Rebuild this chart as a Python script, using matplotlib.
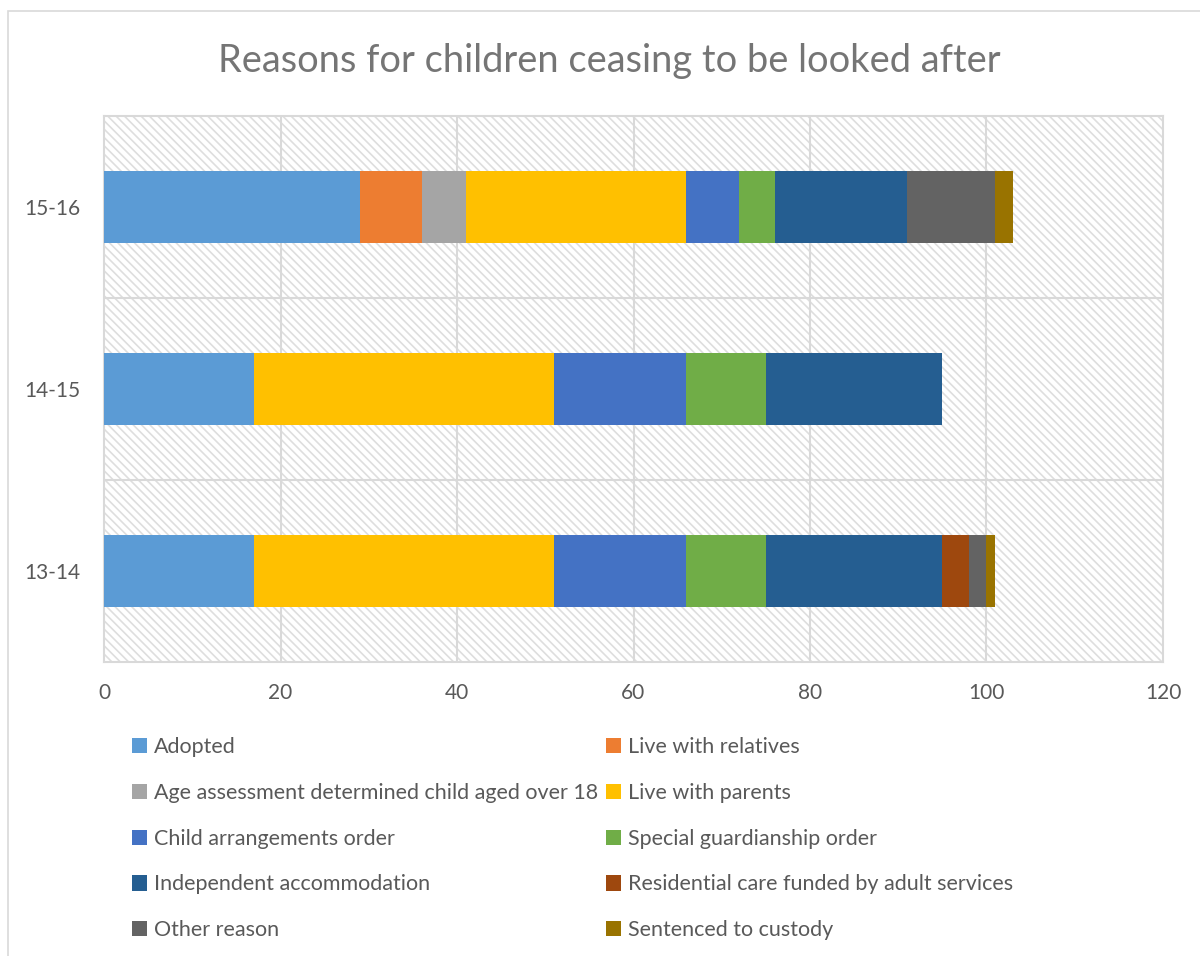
import numpy as np
import matplotlib.pyplot as plt
from matplotlib.patches import Rectangle, Patch

plt.rcParams['font.family'] = ['Lato', 'DejaVu Sans']
plt.rcParams['hatch.color'] = '#dedede'
plt.rcParams['hatch.linewidth'] = 1.2

# Données
categories = ['13-14', '14-15', '15-16']
adopted = [17, 17, 29]
live_with_relatives = [0, 0, 7]
age_assessment = [0, 0, 5]
live_with_parents = [34, 34, 25]
child_arrangements = [15, 15, 6]
special_guardianship = [9, 9, 4]
independent_accommodation = [20, 20, 15]
residential_care = [3, 0, 0]
other_reason = [2, 0, 10]
sentenced_to_custody = [1, 0, 2]

series_names = ['Adopted', 'Live with relatives',
                'Age assessment determined child aged over 18', 'Live with parents',
                'Child arrangements order', 'Special guardianship order',
                'Independent accommodation', 'Residential care funded by adult services',
                'Other reason', 'Sentenced to custody']
series_values = [adopted, live_with_relatives, age_assessment, live_with_parents,
                 child_arrangements, special_guardianship, independent_accommodation,
                 residential_care, other_reason, sentenced_to_custody]
colors = ['#5B9BD5', '#ED7D31', '#A5A5A5', '#FFC000', '#4472C4',
          '#70AD47', '#255E91', '#9E480E', '#636363', '#997300']

text_color = '#595959'
grid_color = '#d9d9d9'
backslash = chr(92)

fig = plt.figure(figsize=(12, 9.56), dpi=100)

# cadre du graphique (bord gris clair)
fig.patches.append(Rectangle((8 / 1200, -0.05), 1.1, 1 - 11 / 956 + 0.05,
                             transform=fig.transFigure, fill=False,
                             edgecolor='#d9d9d9', linewidth=1.2))

ax = fig.add_axes([104 / 1200, 1 - 662 / 956, (1163 - 104) / 1200, (662 - 116) / 956])

# fond hachuré de la zone de tracé
ax.add_patch(Rectangle((0, 0), 1, 1, transform=ax.transAxes, facecolor='white',
                       edgecolor='#dedede', hatch=backslash * 4, linewidth=0, zorder=0))

y = np.arange(len(categories))
left = np.zeros(len(categories))
for name, vals, col in zip(series_names, series_values, colors):
    ax.barh(y, vals, left=left, height=0.4, color=col, label=name, zorder=3)
    left += np.array(vals)

ax.set_xlim(0, 120)
ax.set_ylim(-0.5, 2.5)
ax.set_xticks(np.arange(0, 121, 20))
ax.set_yticks(y)
ax.set_yticklabels(categories)

# grille
for xv in np.arange(20, 120, 20):
    ax.axvline(xv, color=grid_color, linewidth=1.5, zorder=1)
for yv in [0.5, 1.5]:
    ax.axhline(yv, color=grid_color, linewidth=1.5, zorder=1)
for s in ax.spines.values():
    s.set_color(grid_color)
    s.set_linewidth(1.5)

ax.tick_params(axis='both', length=0, colors=text_color, labelsize=15)
ax.tick_params(axis='x', pad=15)
ax.tick_params(axis='y', pad=17)

fig.text(609 / 1200, 1 - 61 / 956, 'Reasons for children ceasing to be looked after',
         ha='center', va='center', fontsize=27.4, color='#757575')

# légende sur deux colonnes, remplie ligne par ligne
handles = [Patch(facecolor=c, edgecolor='none') for c in colors]
order = [0, 2, 4, 6, 8, 1, 3, 5, 7, 9]
leg = fig.legend([handles[i] for i in order], [series_names[i] for i in order],
                 ncol=2, loc='upper left', bbox_to_anchor=(132 / 1200, 1 - 737 / 956),
                 frameon=False, fontsize=15.5, handlelength=0.7, handleheight=0.7,
                 handletextpad=0.3, labelspacing=1.2, columnspacing=0.4,
                 borderpad=0, borderaxespad=0)
for t in leg.get_texts():
    t.set_color(text_color)

fig.savefig('out.png', dpi=100, facecolor='white')
